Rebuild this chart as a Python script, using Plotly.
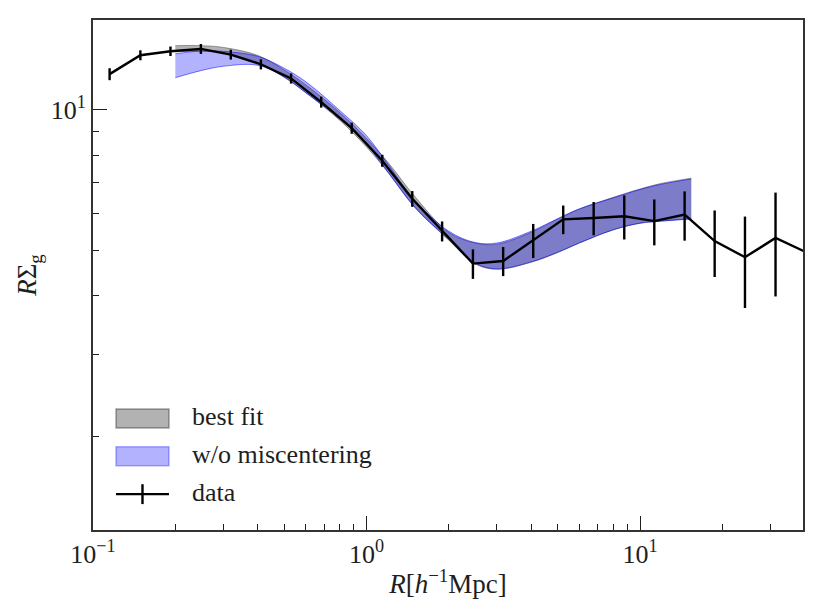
import plotly.graph_objects as go

# measured profile, R in h^-1 Mpc
r_data = [0.115, 0.149, 0.192, 0.248, 0.319, 0.411, 0.530, 0.683, 0.883, 1.142, 1.47, 1.89,
          2.45, 3.16, 4.07, 5.24, 6.77, 8.76, 11.28, 14.56, 18.75, 24.2, 31.3, 40.5]
sig_data = [11.91, 13.07, 13.33, 13.48, 13.11, 12.50, 11.66, 10.38, 9.13, 7.78, 6.45, 5.50,
            4.69, 4.75, 5.26, 5.83, 5.87, 5.92, 5.78, 5.97, 5.24, 4.84, 5.32, 4.96]
sig_err = [0.35, 0.32, 0.31, 0.33, 0.32, 0.31, 0.29, 0.28, 0.25, 0.23, 0.25, 0.27,
           0.34, 0.34, 0.44, 0.41, 0.48, 0.64, 0.65, 0.72, 0.85, 1.07, 1.33, 1.30]

# model bands
r_model = [0.2, 0.25, 0.3, 0.4, 0.5, 0.6, 0.8, 1.0, 1.2, 1.5, 2.0, 2.5, 3.0, 4.0, 5.0, 6.0,
           8.0, 10.0, 12.0, 15.4]
fit_hi = [13.70, 13.70, 13.58, 13.06, 12.16, 11.30, 9.85, 8.68, 7.71, 6.53, 5.47, 5.19,
          5.16, 5.47, 5.84, 6.13, 6.50, 6.77, 6.96, 7.14]
fit_lo = [13.29, 13.32, 13.22, 12.59, 11.72, 10.87, 9.48, 8.32, 7.34, 6.19, 5.26, 4.68,
          4.56, 4.72, 4.95, 5.19, 5.54, 5.72, 5.78, 5.85]
nomis_hi = [13.16, 13.35, 13.32, 13.00, 12.26, 11.47, 9.95, 8.80, 7.64, 6.40, 5.50, 5.20,
            5.19, 5.50, 5.85, 6.14, 6.48, 6.75, 6.93, 7.11]
nomis_lo = [11.70, 12.13, 12.38, 12.44, 11.75, 10.87, 9.57, 8.43, 7.34, 6.19, 5.28, 4.70,
            4.57, 4.73, 4.96, 5.19, 5.54, 5.72, 5.78, 5.84]

x_major = [0.1, 1, 10]
x_major_text = ["10<sup>\u22121</sup>", "10<sup>0</sup>", "10<sup>1</sup>"]
x_minor = [0.2, 0.3, 0.4, 0.5, 0.6, 0.7, 0.8, 0.9, 2, 3, 4, 5, 6, 7, 8, 9, 20, 30]
y_major = [10]
y_major_text = ["10<sup>1</sup>"]
y_minor = [2, 3, 4, 5, 6, 7, 8, 9]

legend_labels = ["best fit", "w/o miscentering", "data"]

FONT = "Liberation Serif"
INK = "#1e1e1e"
GRAY_FILL = "rgba(0,0,0,0.3)"
GRAY_EDGE = "rgba(0,0,0,0.35)"
BLUE_FILL = "rgba(0,0,255,0.3)"
BLUE_EDGE = "rgba(0,0,255,0.5)"

fig = go.Figure()

for lo, hi, fc, ec in [(fit_lo, fit_hi, GRAY_FILL, GRAY_EDGE),
                       (nomis_lo, nomis_hi, BLUE_FILL, BLUE_EDGE)]:
    fig.add_trace(go.Scatter(x=r_model, y=lo, mode="lines", line=dict(color=ec, width=1, shape="spline"),
                             showlegend=False, hoverinfo="skip"))
    fig.add_trace(go.Scatter(x=r_model, y=hi, mode="lines", fill="tonexty", fillcolor=fc,
                             line=dict(color=ec, width=1, shape="spline"),
                             showlegend=False, hoverinfo="skip"))

fig.add_trace(go.Scatter(
    x=r_data, y=sig_data, mode="lines",
    line=dict(color="black", width=2.4),
    error_y=dict(type="data", array=sig_err, color="black", thickness=2.4, width=0),
    showlegend=False,
))

axis_common = dict(
    type="log", showgrid=False, zeroline=False,
    showline=True, linecolor="#333333", linewidth=2, mirror=True,
    ticks="inside", ticklen=14, tickwidth=1.3, tickcolor=INK,
    tickfont=dict(family=FONT, size=26, color=INK),
)

fig.update_xaxes(
    **axis_common,
    range=[-1, 1.596],
    tickvals=x_major, ticktext=x_major_text,
    minor=dict(tickvals=x_minor, ticks="inside", ticklen=6, tickwidth=1, tickcolor=INK),
    title=dict(text="<i>R</i>[<i>h</i><sup>\u22121</sup>Mpc]", font=dict(family=FONT, size=27, color=INK),
               standoff=6),
)
fig.update_yaxes(
    **axis_common,
    range=[0.1021, 1.1915],
    tickvals=y_major, ticktext=y_major_text,
    minor=dict(tickvals=y_minor, ticks="inside", ticklen=6, tickwidth=1, tickcolor=INK),
    title=dict(text="<i>R</i>\u03a3<sub>g</sub>", font=dict(family=FONT, size=27, color=INK),
               standoff=6),
)

# hand-drawn legend box (paper coords)
patch_x0, patch_x1 = 0.0324, 0.1070
rows_y = [0.2188, 0.1445, 0.0703]
half_h = 0.0186
fig.add_shape(type="rect", xref="paper", yref="paper", x0=patch_x0, x1=patch_x1,
              y0=rows_y[0] - half_h, y1=rows_y[0] + half_h,
              fillcolor=GRAY_FILL, line=dict(color=GRAY_EDGE, width=1.5))
fig.add_shape(type="rect", xref="paper", yref="paper", x0=patch_x0, x1=patch_x1,
              y0=rows_y[1] - half_h, y1=rows_y[1] + half_h,
              fillcolor=BLUE_FILL, line=dict(color=BLUE_FILL, width=1.5))
fig.add_shape(type="line", xref="paper", yref="paper", x0=patch_x0, x1=patch_x1,
              y0=rows_y[2], y1=rows_y[2], line=dict(color="black", width=2.4))
fig.add_shape(type="line", xref="paper", yref="paper", x0=(patch_x0 + patch_x1) / 2,
              x1=(patch_x0 + patch_x1) / 2, y0=rows_y[2] - 0.0195, y1=rows_y[2] + 0.0195,
              line=dict(color="black", width=2.4))
for label, yy in zip(legend_labels, rows_y):
    fig.add_annotation(text=label, xref="paper", yref="paper", x=0.1366, y=yy + 0.004,
                       xanchor="left", yanchor="middle", showarrow=False,
                       font=dict(family=FONT, size=26, color=INK))

# page body adds an 8px offset, so the figure is drawn 8px smaller
fig.update_layout(
    width=814, height=608,
    margin=dict(l=85, r=19, t=10, b=86),
    plot_bgcolor="white", paper_bgcolor="white",
    showlegend=False,
)

fig.write_html("out.html")
